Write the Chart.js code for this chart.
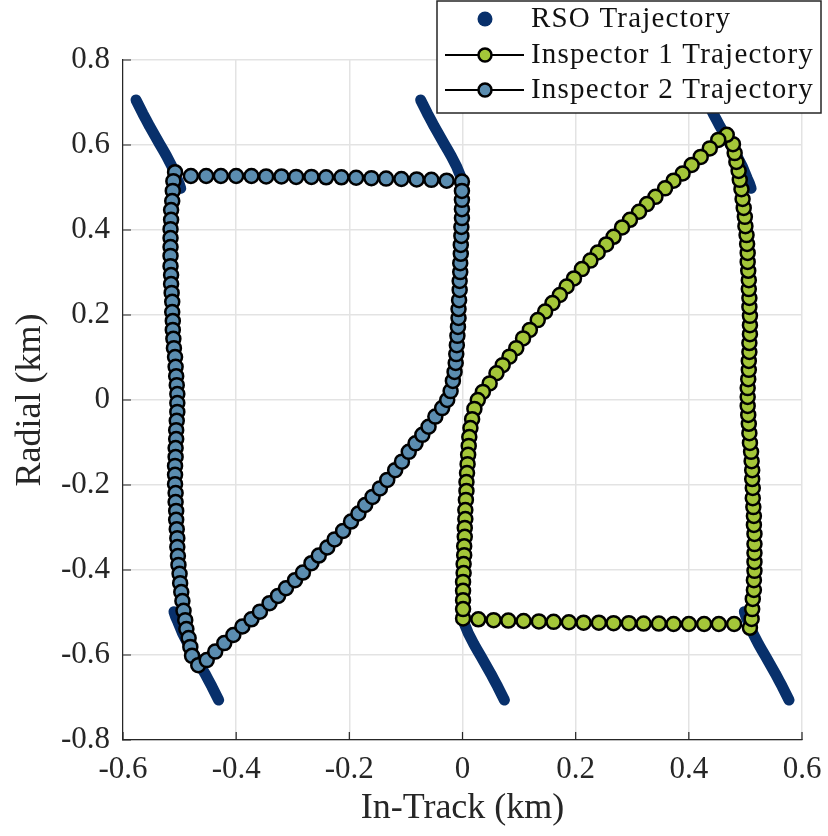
<!DOCTYPE html>
<html>
<head>
<meta charset="utf-8">
<script src="https://cdn.jsdelivr.net/npm/chart.js@4.4.1/dist/chart.umd.min.js"></script>
<style>
  html, body { margin: 0; padding: 0; background: #fff; }
  canvas { display: block; }
</style>
</head>
<body>
<canvas id="chart" width="828" height="836"></canvas>
<script>
// axis ticks
const xTicks = [-0.6, -0.4, -0.2, 0, 0.2, 0.4, 0.6]
const xTickLabels = ['-0.6', '-0.4', '-0.2', '0', '0.2', '0.4', '0.6']
const yTicks = [-0.8, -0.6, -0.4, -0.2, 0, 0.2, 0.4, 0.6, 0.8]
const yTickLabels = ['-0.8', '-0.6', '-0.4', '-0.2', '0', '0.2', '0.4', '0.6', '0.8']

// RSO arcs (null breaks between arcs)
const rsoX = [
  -0.577, -0.571, -0.565, -0.559, -0.553, -0.547, -0.541, -0.535, -0.529, -0.523, -0.518, -0.513, -0.509, -0.505, -0.501, -0.498, null,
  -0.074, -0.068, -0.062, -0.056, -0.050, -0.044, -0.038, -0.032, -0.026, -0.020, -0.015, -0.010, -0.006, -0.002, 0.001, null,
  0.431, 0.437, 0.443, 0.449, 0.455, 0.461, 0.467, 0.473, 0.479, 0.485, 0.490, 0.495, 0.499, 0.503, 0.507, 0.510, null,
  -0.431, -0.437, -0.443, -0.449, -0.455, -0.461, -0.467, -0.473, -0.479, -0.485, -0.490, -0.495, -0.499, -0.503, -0.507, -0.510, null,
  0.074, 0.068, 0.062, 0.056, 0.050, 0.044, 0.038, 0.032, 0.026, 0.020, 0.015, 0.010, 0.006, 0.002, -0.001, null,
  0.577, 0.571, 0.565, 0.559, 0.553, 0.547, 0.541, 0.535, 0.529, 0.523, 0.518, 0.513, 0.509, 0.505, 0.501, 0.498
]
const rsoY = [
  0.706, 0.690, 0.674, 0.659, 0.644, 0.630, 0.616, 0.602, 0.588, 0.574, 0.561, 0.548, 0.535, 0.522, 0.510, 0.498, null,
  0.706, 0.690, 0.674, 0.659, 0.644, 0.630, 0.616, 0.602, 0.588, 0.574, 0.561, 0.548, 0.535, 0.522, 0.512, null,
  0.706, 0.690, 0.674, 0.659, 0.644, 0.630, 0.616, 0.602, 0.588, 0.574, 0.561, 0.548, 0.535, 0.522, 0.510, 0.498, null,
  -0.706, -0.690, -0.674, -0.659, -0.644, -0.630, -0.616, -0.602, -0.588, -0.574, -0.561, -0.548, -0.535, -0.522, -0.510, -0.498, null,
  -0.706, -0.690, -0.674, -0.659, -0.644, -0.630, -0.616, -0.602, -0.588, -0.574, -0.561, -0.548, -0.535, -0.522, -0.512, null,
  -0.706, -0.690, -0.674, -0.659, -0.644, -0.630, -0.616, -0.602, -0.588, -0.574, -0.561, -0.548, -0.535, -0.522, -0.510, -0.498
]

// Inspector 1 (green)
const insp1X = [
  0.001, 0.028, 0.055, 0.081, 0.108, 0.135, 0.161, 0.188, 0.214, 0.241, 0.267, 0.294, 0.320, 0.347, 0.373, 0.400, 0.427, 0.453, 0.480,
  0.508, 0.511, 0.512, 0.513, 0.515, 0.515, 0.516, 0.516, 0.516, 0.516, 0.516, 0.515, 0.515, 0.514, 0.513, 0.513, 0.512, 0.512, 0.511, 0.510,
  0.508, 0.507, 0.506, 0.505, 0.504, 0.504, 0.504, 0.505, 0.506, 0.506, 0.507, 0.507, 0.508, 0.508, 0.508, 0.507, 0.507, 0.506, 0.506, 0.505,
  0.504, 0.504, 0.503, 0.502, 0.500, 0.499, 0.497, 0.495, 0.493, 0.490, 0.488, 0.484, 0.481, 0.478, 0.467,
  0.452, 0.437, 0.421, 0.405, 0.389, 0.373, 0.358, 0.341, 0.326, 0.312, 0.296, 0.282, 0.267, 0.254, 0.239, 0.226, 0.211, 0.197, 0.184, 0.172,
  0.159, 0.146, 0.133, 0.119, 0.107, 0.095, 0.083, 0.071, 0.060, 0.048, 0.036,
  0.027, 0.021, 0.017, 0.014, 0.012, 0.011, 0.010, 0.009, 0.008, 0.007, 0.007, 0.006, 0.005, 0.005, 0.004, 0.004, 0.003, 0.003, 0.002, 0.002,
  0.001, 0.001, 0.001, 0.001
]
const insp1Y = [
  -0.514, -0.516, -0.518, -0.519, -0.520, -0.521, -0.522, -0.523, -0.524, -0.524, -0.525, -0.525, -0.526, -0.526, -0.527, -0.527, -0.527, -0.527, -0.527,
  -0.536, -0.515, -0.492, -0.468, -0.447, -0.424, -0.402, -0.381, -0.360, -0.339, -0.315, -0.294, -0.273, -0.252, -0.231, -0.207, -0.186, -0.165, -0.144, -0.122,
  -0.101, -0.078, -0.056, -0.035, -0.014, 0.007, 0.028, 0.049, 0.071, 0.092, 0.113, 0.134, 0.155, 0.176, 0.198, 0.219, 0.240, 0.261, 0.282, 0.304,
  0.325, 0.346, 0.367, 0.388, 0.409, 0.431, 0.452, 0.473, 0.496, 0.518, 0.539, 0.560, 0.581, 0.602, 0.624,
  0.612, 0.592, 0.572, 0.553, 0.533, 0.516, 0.498, 0.478, 0.461, 0.443, 0.424, 0.406, 0.384, 0.366, 0.347, 0.328, 0.308, 0.286, 0.267, 0.247,
  0.228, 0.208, 0.188, 0.165, 0.145, 0.122, 0.102, 0.082, 0.063, 0.039, 0.019,
  0.000, -0.021, -0.045, -0.066, -0.087, -0.108, -0.129, -0.151, -0.172, -0.193, -0.214, -0.235, -0.259, -0.280, -0.301, -0.322, -0.344, -0.365, -0.386, -0.407,
  -0.428, -0.449, -0.471, -0.492
]

// Inspector 2 (blue)
const insp2X = [
  -0.001, -0.028, -0.055, -0.081, -0.108, -0.135, -0.161, -0.188, -0.214, -0.241, -0.267, -0.294, -0.320, -0.347, -0.373, -0.400, -0.427, -0.453, -0.480,
  -0.508, -0.511, -0.512, -0.513, -0.515, -0.515, -0.516, -0.516, -0.516, -0.516, -0.516, -0.515, -0.515, -0.514, -0.513, -0.513, -0.512, -0.512, -0.511, -0.510,
  -0.508, -0.507, -0.506, -0.505, -0.504, -0.504, -0.504, -0.505, -0.506, -0.506, -0.507, -0.507, -0.508, -0.508, -0.508, -0.507, -0.507, -0.506, -0.506, -0.505,
  -0.504, -0.504, -0.503, -0.502, -0.500, -0.499, -0.497, -0.495, -0.493, -0.490, -0.488, -0.484, -0.481, -0.478, -0.467,
  -0.452, -0.437, -0.421, -0.405, -0.389, -0.373, -0.358, -0.341, -0.326, -0.312, -0.296, -0.282, -0.267, -0.254, -0.239, -0.226, -0.211, -0.197, -0.184, -0.172,
  -0.159, -0.146, -0.133, -0.119, -0.107, -0.095, -0.083, -0.071, -0.060, -0.048, -0.036,
  -0.027, -0.021, -0.017, -0.014, -0.012, -0.011, -0.010, -0.009, -0.008, -0.007, -0.007, -0.006, -0.005, -0.005, -0.004, -0.004, -0.003, -0.003, -0.002, -0.002,
  -0.001, -0.001, -0.001, -0.001
]
const insp2Y = [
  0.514, 0.516, 0.518, 0.519, 0.520, 0.521, 0.522, 0.523, 0.524, 0.524, 0.525, 0.525, 0.526, 0.526, 0.527, 0.527, 0.527, 0.527, 0.527,
  0.536, 0.515, 0.492, 0.468, 0.447, 0.424, 0.402, 0.381, 0.360, 0.339, 0.315, 0.294, 0.273, 0.252, 0.231, 0.207, 0.186, 0.165, 0.144, 0.122,
  0.101, 0.078, 0.056, 0.035, 0.014, -0.007, -0.028, -0.049, -0.071, -0.092, -0.113, -0.134, -0.155, -0.176, -0.198, -0.219, -0.240, -0.261, -0.282, -0.304,
  -0.325, -0.346, -0.367, -0.388, -0.409, -0.431, -0.452, -0.473, -0.496, -0.518, -0.539, -0.560, -0.581, -0.602, -0.624,
  -0.612, -0.592, -0.572, -0.553, -0.533, -0.516, -0.498, -0.478, -0.461, -0.443, -0.424, -0.406, -0.384, -0.366, -0.347, -0.328, -0.308, -0.286, -0.267, -0.247,
  -0.228, -0.208, -0.188, -0.165, -0.145, -0.122, -0.102, -0.082, -0.063, -0.039, -0.019,
  0.000, 0.021, 0.045, 0.066, 0.087, 0.108, 0.129, 0.151, 0.172, 0.193, 0.214, 0.235, 0.259, 0.280, 0.301, 0.322, 0.344, 0.365, 0.386, 0.407,
  0.428, 0.449, 0.471, 0.492
]

const family = 'Liberation Serif'
const rsoColor = '#08306b'
const greenColor = '#a4c639'
const blueColor = '#5b8db0'
const axisColor = '#262626'
const gridColor = '#e3e3e3'

const toPoints = (xs, ys) => xs.map((x, i) => ({x, y: ys[i]}))

// MATLAB style tick marks pointing into the plot
const innerTicks = {
  id: 'innerTicks',
  beforeDatasetsDraw(chart) {
    const {ctx, chartArea, scales} = chart
    ctx.save()
    ctx.strokeStyle = axisColor
    ctx.lineWidth = 1.2
    ctx.beginPath()
    xTicks.forEach(v => {
      const px = scales.x.getPixelForValue(v)
      ctx.moveTo(px, chartArea.bottom)
      ctx.lineTo(px, chartArea.bottom - 8)
    })
    yTicks.forEach(v => {
      const py = scales.y.getPixelForValue(v)
      ctx.moveTo(chartArea.left, py)
      ctx.lineTo(chartArea.left + 8, py)
    })
    ctx.stroke()
    ctx.restore()
  }
}

// boxed legend in the top right corner, over the data
const boxLegend = {
  id: 'boxLegend',
  afterDraw(chart) {
    const ctx = chart.ctx
    const box = {left: 437, top: 1, right: 821, bottom: 113}
    const rows = [19, 55, 90]
    ctx.save()
    ctx.fillStyle = '#fff'
    ctx.fillRect(box.left, box.top, box.right - box.left, box.bottom - box.top)
    ctx.strokeStyle = axisColor
    ctx.lineWidth = 1.5
    ctx.strokeRect(box.left, box.top, box.right - box.left, box.bottom - box.top)
    chart.data.datasets.forEach((ds, i) => {
      const y = rows[i]
      if (ds.showMarkers) {
        ctx.strokeStyle = '#000'
        ctx.lineWidth = 2.2
        ctx.beginPath()
        ctx.moveTo(445, y)
        ctx.lineTo(524, y)
        ctx.stroke()
        ctx.beginPath()
        ctx.arc(485, y, 6.5, 0, Math.PI * 2)
        ctx.fillStyle = ds.pointBackgroundColor
        ctx.fill()
        ctx.lineWidth = 2.5
        ctx.stroke()
      } else {
        ctx.beginPath()
        ctx.arc(485, y, 7.5, 0, Math.PI * 2)
        ctx.fillStyle = ds.borderColor
        ctx.fill()
      }
      ctx.fillStyle = '#111'
      ctx.font = '29px "' + family + '"'
      ctx.letterSpacing = '1.2px'
      ctx.textBaseline = 'middle'
      ctx.textAlign = 'left'
      ctx.fillText(ds.label, 531, y)
    })
    ctx.restore()
  }
}

const markerSet = (label, xs, ys, color, order) => ({
  label,
  data: toPoints(xs, ys),
  showLine: true,
  showMarkers: true,
  borderColor: '#000',
  borderWidth: 1.5,
  pointBackgroundColor: color,
  pointBorderColor: '#000',
  pointBorderWidth: 2.5,
  pointRadius: 7,
  pointHoverRadius: 7,
  order
})

new Chart(document.getElementById('chart').getContext('2d'), {
  type: 'scatter',
  data: {
    datasets: [
      {
        label: 'RSO Trajectory',
        data: toPoints(rsoX, rsoY),
        showLine: true,
        spanGaps: false,
        borderColor: rsoColor,
        backgroundColor: rsoColor,
        borderWidth: 11,
        borderCapStyle: 'round',
        borderJoinStyle: 'round',
        pointRadius: 0,
        pointHoverRadius: 0,
        order: 2
      },
      markerSet('Inspector 1 Trajectory', insp1X, insp1Y, greenColor, 1),
      markerSet('Inspector 2 Trajectory', insp2X, insp2Y, blueColor, 0)
    ]
  },
  options: {
    responsive: false,
    animation: false,
    events: [],
    layout: {padding: {top: 60, right: 26, left: 0, bottom: 0}},
    plugins: {
      legend: {display: false},
      tooltip: {enabled: false}
    },
    scales: {
      x: {
        type: 'linear',
        min: -0.6,
        max: 0.6,
        afterBuildTicks: s => { s.ticks = xTicks.map(value => ({value})) },
        afterFit: s => { s.height = 96; s.paddingLeft = 0; s.paddingRight = 0 },
        ticks: {
          callback: (v, i) => xTickLabels[i],
          font: {family, size: 31},
          color: axisColor,
          padding: 11,
          maxRotation: 0,
          autoSkip: false
        },
        grid: {color: gridColor, lineWidth: 1.5, drawTicks: false},
        border: {display: true, color: axisColor, width: 1.2},
        title: {
          display: true,
          text: 'In-Track (km)',
          font: {family, size: 36},
          color: axisColor,
          padding: {top: 0, bottom: 6}
        }
      },
      y: {
        type: 'linear',
        min: -0.8,
        max: 0.8,
        afterBuildTicks: s => { s.ticks = yTicks.map(value => ({value})) },
        afterFit: s => { s.width = 123; s.paddingTop = 0; s.paddingBottom = 0 },
        ticks: {
          callback: (v, i) => yTickLabels[i],
          font: {family, size: 31},
          color: axisColor,
          padding: 13,
          autoSkip: false
        },
        grid: {color: gridColor, lineWidth: 1.5, drawTicks: false},
        border: {display: true, color: axisColor, width: 1.2},
        title: {
          display: true,
          text: 'Radial (km)',
          font: {family, size: 36},
          color: axisColor,
          padding: {top: 9, bottom: 0}
        }
      }
    }
  },
  plugins: [innerTicks, boxLegend]
})
</script>
</body>
</html>
